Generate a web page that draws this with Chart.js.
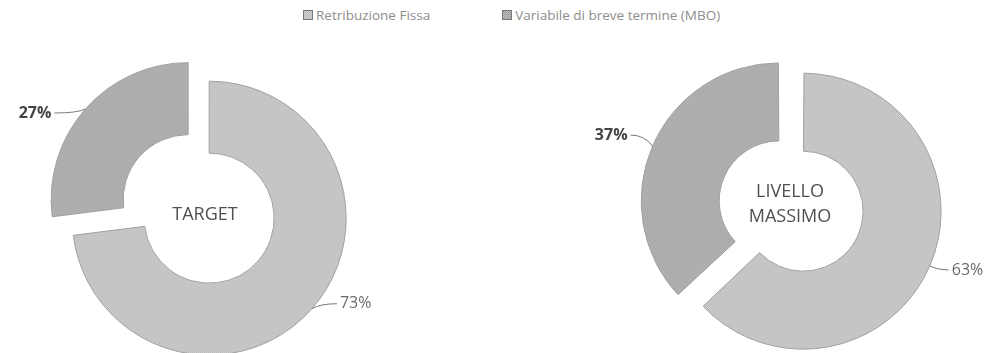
<!DOCTYPE html>
<html>
<head>
<meta charset="utf-8">
<script src="https://cdn.jsdelivr.net/npm/chart.js@4"></script>
<style>
  html, body { margin: 0; padding: 0; background: #fff; }
  #page { position: relative; width: 993px; height: 353px; overflow: hidden; }
  #page canvas.chart { position: absolute; top: 0; }
  #targetChart { left: 0; }
  #maxChart { left: 560px; }
  #legend {
    position: absolute; left: 303px; top: 6px;
    display: flex; gap: 72px;
    font: 13.5px "Open Sans", sans-serif; color: #8d8d8d;
  }
  #legend .item { display: flex; align-items: center; gap: 3px; white-space: nowrap; }
  #legend canvas { display: block; }
</style>
</head>
<body>
<div id="page">
  <div id="legend"></div>
  <canvas id="targetChart" class="chart" width="420" height="353"></canvas>
  <canvas id="maxChart" class="chart" width="433" height="353"></canvas>
</div>
<script>
const categories = ["Retribuzione Fissa", "Variabile di breve termine (MBO)"];
const targetValues = [73, 27];
const maxValues = [63, 37];
const targetCenter = ["TARGET"];
const maxCenter = ["LIVELLO", "MASSIMO"];

// dotted grey fill, like the scanned original
function makePattern(a, b) {
  const c = document.createElement("canvas");
  c.width = 2;
  c.height = 2;
  const g = c.getContext("2d");
  g.fillStyle = a;
  g.fillRect(0, 0, 2, 2);
  g.fillStyle = b;
  g.fillRect(0, 0, 1, 1);
  g.fillRect(1, 1, 1, 1);
  return g.createPattern(c, "repeat");
}
const lightFill = makePattern("#d4d4d4", "#b7b7b7");
const darkFill = makePattern("#bfbfbf", "#9d9d9d");

// Chart.js moves an arc by offset/4 and also grows it by
// (offset/4) * (1 - sin(min(PI, circumference))), so split the gap
// between the two slices so that both keep the same radius.
function splitOffset(values, gap) {
  const total = values[0] + values[1];
  const fix = values.map((v) => 1 - Math.sin(Math.min(Math.PI, (v / total) * 2 * Math.PI)));
  const shiftA = (gap * fix[1]) / (fix[0] + fix[1]);
  const shiftB = (gap * fix[0]) / (fix[0] + fix[1]);
  return { offsets: [shiftA * 4, shiftB * 4], grow: shiftA * fix[0] };
}

const sliceLabels = {
  id: "sliceLabels",
  afterDatasetsDraw(chart, args, opts) {
    const ctx = chart.ctx;
    const meta = chart.getDatasetMeta(0);
    const data = chart.data.datasets[0].data;
    ctx.save();
    meta.data.forEach((arc, i) => {
      const p = arc.getProps(["x", "y", "startAngle", "endAngle", "outerRadius"], true);
      const shift = (arc.options.offset || 0) / 4;
      const circ = p.endAngle - p.startAngle;
      const grow = shift * (1 - Math.sin(Math.min(Math.PI, circ)));
      const mid = (p.startAngle + p.endAngle) / 2;
      const cos = Math.cos(mid);
      const sin = Math.sin(mid);
      const r = p.outerRadius + grow;
      const px = p.x + cos * (shift + r);
      const py = p.y + sin * (shift + r);
      const side = cos >= 0 ? 1 : -1;
      const nudge = opts.nudge[i];
      const tx = px + side * 20 + nudge[0];
      const ty = py + nudge[1];

      ctx.strokeStyle = "#7a7a7a";
      ctx.lineWidth = 1;
      ctx.beginPath();
      ctx.moveTo(px, py);
      ctx.quadraticCurveTo(px + side * 8, ty, tx - side * 3, ty);
      ctx.stroke();

      ctx.font = opts.fonts[i];
      ctx.fillStyle = opts.colors[i];
      ctx.textAlign = side > 0 ? "left" : "right";
      ctx.textBaseline = "middle";
      ctx.fillText(data[i] + "%", tx, ty);
    });

    // text in the hole
    const c = meta.data[0];
    const lines = opts.center.lines;
    ctx.font = '18px "Open Sans", sans-serif';
    ctx.fillStyle = "#505050";
    ctx.textAlign = "center";
    ctx.textBaseline = "middle";
    const top = c.y + opts.center.dy - ((lines.length - 1) * 25) / 2;
    lines.forEach((line, k) => {
      ctx.fillText(line, c.x + opts.center.dx, top + k * 25);
    });
    ctx.restore();
  },
};

function makeDonut(el, values, center, geo) {
  const split = splitOffset(values, geo.gap);
  const radius = geo.outer - split.grow;
  return new Chart(el, {
    type: "doughnut",
    data: {
      labels: categories,
      datasets: [
        {
          data: values,
          backgroundColor: [lightFill, darkFill],
          borderColor: "#a0a0a0",
          borderWidth: 1,
          offset: split.offsets,
          hoverOffset: 0,
        },
      ],
    },
    options: {
      responsive: false,
      animation: false,
      radius: radius,
      cutout: ((geo.inner - split.grow) / radius) * 100 + "%",
      layout: { padding: geo.padding },
      events: [],
      plugins: {
        legend: { display: false },
        tooltip: { enabled: false },
        sliceLabels: {
          center: { lines: center, dx: geo.textDx, dy: geo.textDy },
          nudge: geo.nudge,
          fonts: ['16px "Open Sans", sans-serif', 'bold 16px "Open Sans", sans-serif'],
          colors: ["#6a6a6a", "#444"],
        },
      },
    },
    plugins: [sliceLabels],
  });
}

const targetChart = makeDonut(document.getElementById("targetChart"), targetValues, targetCenter, {
  gap: 28,
  outer: 137,
  inner: 65,
  padding: { left: 0, right: 2, top: 83, bottom: 0 },
  textDx: -4,
  textDy: -3,
  nudge: [[8, -5], [-14, 4]],
});

const maxChart = makeDonut(document.getElementById("maxChart"), maxValues, maxCenter, {
  gap: 26,
  outer: 138,
  inner: 60,
  padding: { left: 43, right: 0, top: 65, bottom: 0 },
  textDx: -8,
  textDy: -5,
  nudge: [[2, 4], [-5, -11]],
});

// legend shared by both donuts, built from the chart's own legend items
const legendEl = document.getElementById("legend");
targetChart.options.plugins.legend.labels.generateLabels(targetChart).forEach((item) => {
  const wrap = document.createElement("div");
  wrap.className = "item";
  const box = document.createElement("canvas");
  box.width = 10;
  box.height = 10;
  const g = box.getContext("2d");
  g.fillStyle = item.fillStyle;
  g.fillRect(0, 0, 10, 10);
  g.strokeStyle = "#777";
  g.strokeRect(0.5, 0.5, 9, 9);
  const txt = document.createElement("span");
  txt.textContent = item.text;
  wrap.appendChild(box);
  wrap.appendChild(txt);
  legendEl.appendChild(wrap);
});
</script>
</body>
</html>
